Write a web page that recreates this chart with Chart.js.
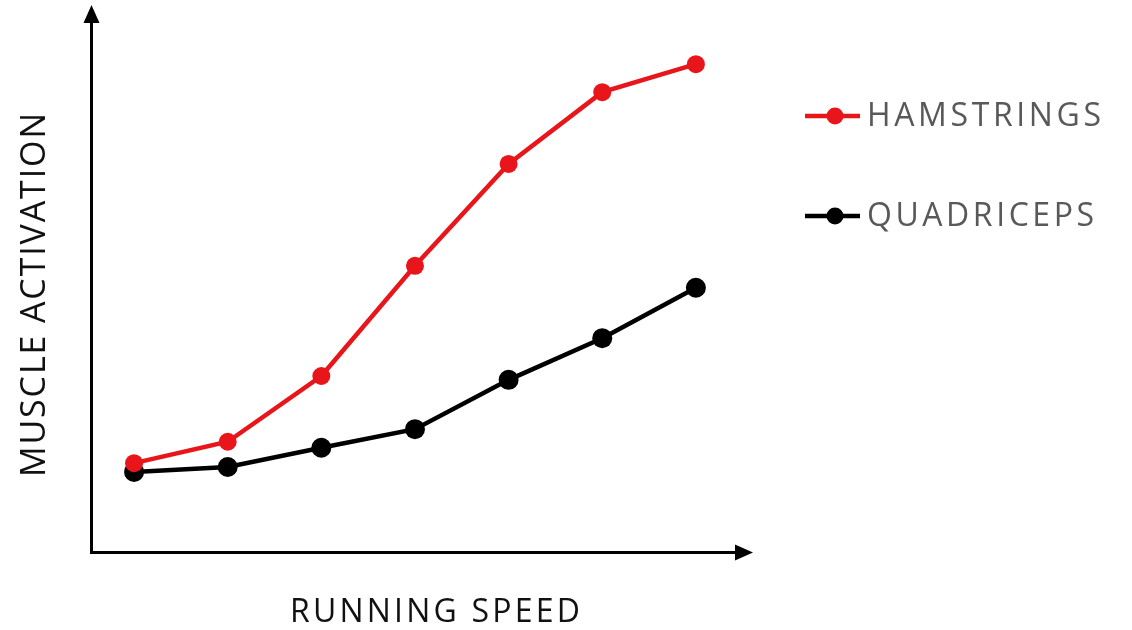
<!DOCTYPE html>
<html>
<head>
<meta charset="utf-8">
<script src="https://cdn.jsdelivr.net/npm/chart.js@4"></script>
<style>
  html, body { margin: 0; padding: 0; background: #ffffff; }
  canvas { display: block; }
</style>
</head>
<body>
<canvas id="c" width="1132" height="630"></canvas>
<script>
// ---- data ----
const speedLevels = [1, 2, 3, 4, 5, 6, 7];
const seriesNames = ['HAMSTRINGS', 'QUADRICEPS'];
const hamstrings = [16.4, 20.3, 32.3, 52.4, 71.0, 84.1, 89.2];
const quadriceps = [14.8, 15.7, 19.2, 22.6, 31.6, 39.2, 48.4];
const xAxisTitle = 'RUNNING SPEED';
const yAxisTitle = 'MUSCLE ACTIVATION';

const RED = '#e8161b';
const BLACK = '#000000';
const FONT = '"Open Sans", "DejaVu Sans", sans-serif';

const toPoints = vals => speedLevels.map((s, i) => ({ x: s, y: vals[i] }));

// draw text starting at x (left), spreading letters to reach targetWidth
function drawSpread(ctx, text, x, y, size, targetWidth) {
  ctx.font = size + 'px ' + FONT;
  ctx.textAlign = 'left';
  ctx.textBaseline = 'middle';
  const chars = Array.from(text);
  const natural = ctx.measureText(text).width;
  const extra = chars.length > 1 ? (targetWidth - natural) / (chars.length - 1) : 0;
  let cx = x;
  for (const ch of chars) {
    ctx.fillText(ch, cx, y);
    cx += ctx.measureText(ch).width + extra;
  }
}

const decorPlugin = {
  id: 'decor',
  beforeDatasetsDraw(chart) {
    const { ctx, chartArea: a } = chart;
    ctx.save();
    ctx.strokeStyle = '#000';
    ctx.fillStyle = '#000';
    ctx.lineWidth = 3;
    const ax = a.left + 0.5, ay = a.bottom - 0.5;
    // y axis
    ctx.beginPath();
    ctx.moveTo(ax, ay + 1.5);
    ctx.lineTo(ax, a.top + 15);
    ctx.stroke();
    ctx.beginPath();
    ctx.moveTo(ax, a.top);
    ctx.lineTo(ax - 8, a.top + 18);
    ctx.lineTo(ax + 8, a.top + 18);
    ctx.closePath();
    ctx.fill();
    // x axis
    ctx.beginPath();
    ctx.moveTo(ax - 1.5, ay);
    ctx.lineTo(a.right - 15, ay);
    ctx.stroke();
    ctx.beginPath();
    ctx.moveTo(a.right, ay);
    ctx.lineTo(a.right - 18, ay - 8);
    ctx.lineTo(a.right - 18, ay + 8);
    ctx.closePath();
    ctx.fill();
    ctx.restore();
  },
  afterDraw(chart) {
    const { ctx } = chart;
    // axis titles
    ctx.save();
    ctx.fillStyle = '#111';
    drawSpread(ctx, xAxisTitle, 290, 613, 32, 290);
    ctx.translate(35, 477);
    ctx.rotate(-Math.PI / 2);
    drawSpread(ctx, yAxisTitle, 0, 0, 34, 364);
    ctx.restore();

    // legend
    ctx.save();
    const legendY = [116, 216];
    const legendW = [234, 227];
    chart.data.datasets.forEach((ds, i) => {
      const y = legendY[i];
      ctx.strokeStyle = ds.borderColor;
      ctx.fillStyle = ds.backgroundColor;
      ctx.lineWidth = 4.5;
      ctx.beginPath();
      ctx.moveTo(805, y);
      ctx.lineTo(860, y);
      ctx.stroke();
      ctx.beginPath();
      ctx.arc(835, y, 8.5, 0, Math.PI * 2);
      ctx.fill();
      ctx.fillStyle = '#595959';
      drawSpread(ctx, ds.label, 867, y + 1, 32, legendW[i]);
    });
    ctx.restore();
  }
};

new Chart(document.getElementById('c'), {
  type: 'line',
  data: {
    datasets: [
      {
        label: seriesNames[0],
        data: toPoints(hamstrings),
        borderColor: RED,
        backgroundColor: RED,
        pointBackgroundColor: RED,
        pointBorderColor: RED,
        borderWidth: 4.5,
        pointRadius: 9,
        pointBorderWidth: 0,
        tension: 0,
        clip: false
      },
      {
        label: seriesNames[1],
        data: toPoints(quadriceps),
        borderColor: BLACK,
        backgroundColor: BLACK,
        pointBackgroundColor: BLACK,
        pointBorderColor: BLACK,
        borderWidth: 4.5,
        pointRadius: 10,
        pointBorderWidth: 0,
        tension: 0,
        clip: false
      }
    ]
  },
  options: {
    responsive: false,
    animation: false,
    events: [],
    layout: { autoPadding: false, padding: { left: 91, right: 379, top: 5, bottom: 77 } },
    plugins: { legend: { display: false }, tooltip: { enabled: false } },
    scales: {
      x: { type: 'linear', min: 0.54, max: 7.61, display: false },
      y: { type: 'linear', min: 0, max: 100, display: false }
    }
  },
  plugins: [decorPlugin]
});
</script>
</body>
</html>
